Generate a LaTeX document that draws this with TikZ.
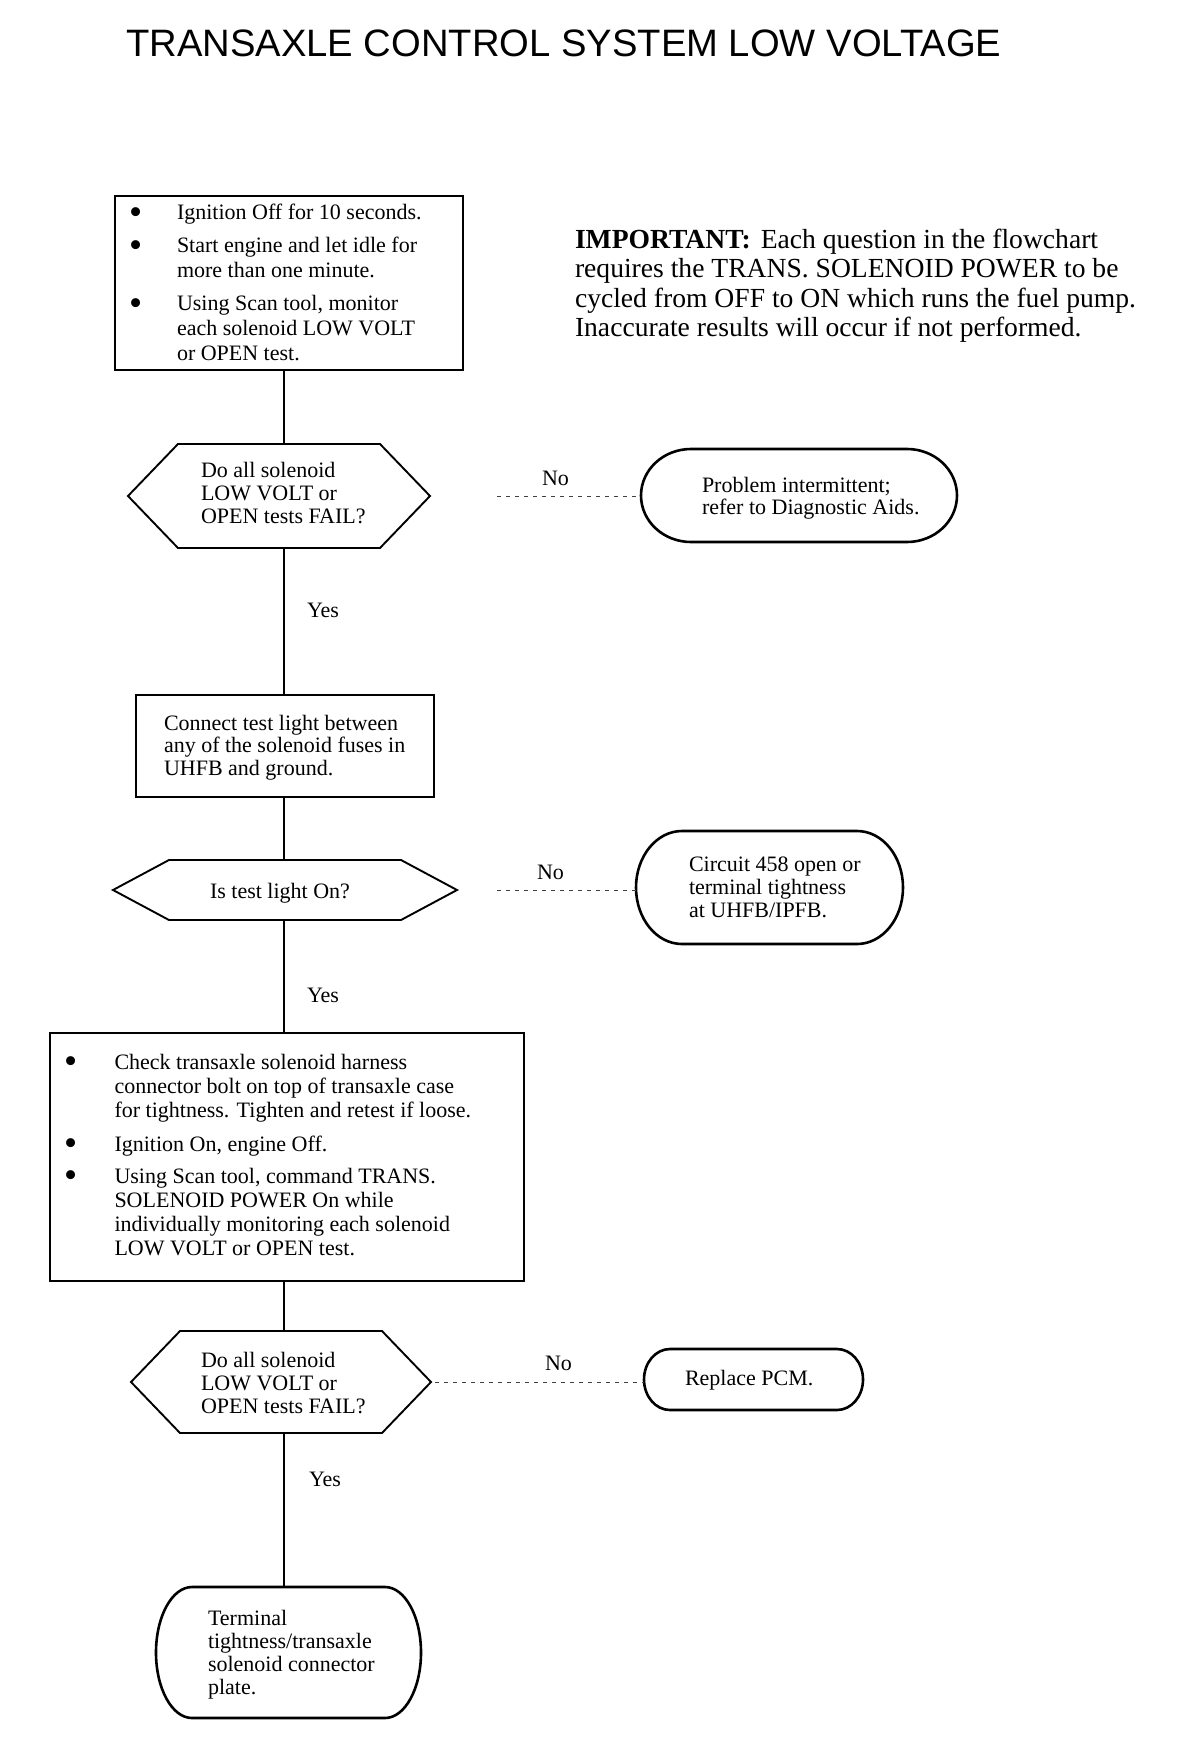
\documentclass[tikz,border=0pt]{standalone}
\usepackage{fontspec}
\setmainfont{Liberation Serif}
\newfontfamily\titlefont{Liberation Sans}
\newcommand{\bigbullet}{\raisebox{-4.5pt}{\scalebox{1.7}{\textbullet}}}
\newcommand{\hexoutline}[2]{%
  \draw[hexline] (#1.west) -- ([xshift=#2]#1.north west) -- ([xshift=-#2]#1.north east) -- (#1.east) -- ([xshift=-#2]#1.south east) -- ([xshift=#2]#1.south west) -- cycle;}
\newcommand{\termoutline}[3]{%
  \draw[termline] ([xshift=#2]#1.north west) -- ([xshift=-#2]#1.north east)
    arc[start angle=90,end angle=0,x radius=#2,y radius=#3]
    -- ([yshift=#3]#1.south east)
    arc[start angle=0,end angle=-90,x radius=#2,y radius=#3]
    -- ([xshift=#2]#1.south west)
    arc[start angle=270,end angle=180,x radius=#2,y radius=#3]
    -- ([yshift=-#3]#1.north west)
    arc[start angle=180,end angle=90,x radius=#2,y radius=#3] -- cycle;}
\begin{document}
\begin{tikzpicture}[x=1pt,y=1pt,
  boxnode/.style={draw, line width=2.2pt, inner sep=0pt, outer sep=0pt},
  shapenode/.style={inner sep=0pt, outer sep=0pt},
  hexline/.style={line width=1.9pt, line join=miter},
  termline/.style={line width=2.6pt},
  flow/.style={line width=1.1pt},
  noflow/.style={line width=0.9pt, dash pattern=on 4pt off 5pt, black!75},
  txt/.style={anchor=base west, inner sep=0pt, outer sep=0pt, font=\fontsize{22}{23}\selectfont},
  lbl/.style={anchor=base west, inner sep=0pt, outer sep=0pt, font=\fontsize{22}{23}\selectfont}
]
\useasboundingbox (0,0) rectangle (1200,-1744);
\fill[white] (0,0) rectangle (1200,-1744);
\coordinate (spine) at (284,0);

% title
\node[anchor=base west, inner sep=0pt, font=\titlefont\fontsize{38.2}{40}\selectfont] (title) at (126,-57) {TRANSAXLE CONTROL SYSTEM LOW VOLTAGE};

% important note
\node[txt, font=\fontsize{27.6}{29.5}\selectfont] (imp) at (575,-248) {\begin{tabular}[t]{@{}l@{}}\textbf{IMPORTANT:}\hspace{10pt}Each question in the flowchart\\ requires the TRANS. SOLENOID POWER to be\\ cycled from OFF to ON which runs the fuel pump.\\ Inaccurate results will occur if not performed.\end{tabular}};

% box 1
\node[boxnode, minimum width=348pt, minimum height=174pt] (b1) at (289,-283) {};
\node[txt, font=\fontsize{22}{24.7}\selectfont] (b1t) at (129,-220) {\begin{tabular}[t]{@{}p{48pt}@{}l@{}}\bigbullet & Ignition Off for 10 seconds.\\[8.3pt] \bigbullet & Start engine and let idle for\\ & more than one minute.\\[8.3pt] \bigbullet & Using Scan tool, monitor\\ & each solenoid LOW VOLT\\ & or OPEN test.\end{tabular}};

% decision 1
\node[shapenode, minimum width=302pt, minimum height=104pt] (d1) at (279,-496) {};
\hexoutline{d1}{50pt}
\node[txt] (d1t) at (201,-477) {\begin{tabular}[t]{@{}l@{}}Do all solenoid\\ LOW VOLT or\\ OPEN tests FAIL?\end{tabular}};

% terminal 1
\node[shapenode, minimum width=316pt, minimum height=93pt] (t1) at (799,-495.5) {};
\termoutline{t1}{50pt}{46.5pt}
\node[txt, font=\fontsize{22}{22}\selectfont] (t1t) at (702,-492) {\begin{tabular}[t]{@{}l@{}}Problem intermittent;\\ refer to Diagnostic Aids.\end{tabular}};

% box 2
\node[boxnode, minimum width=298pt, minimum height=102pt] (b2) at (285,-746) {};
\node[txt, font=\fontsize{22}{22.5}\selectfont] (b2t) at (164,-730) {\begin{tabular}[t]{@{}l@{}}Connect test light between\\ any of the solenoid fuses in\\ UHFB and ground.\end{tabular}};

% decision 2
\node[shapenode, minimum width=344pt, minimum height=60pt] (d2) at (285,-890) {};
\hexoutline{d2}{56pt}
\node[txt] (d2t) at (210,-898) {Is test light On?};

% terminal 2
\node[shapenode, minimum width=267pt, minimum height=113pt] (t2) at (769.5,-887.5) {};
\termoutline{t2}{46pt}{56.5pt}
\node[txt] (t2t) at (689,-871) {\begin{tabular}[t]{@{}l@{}}Circuit 458 open or\\ terminal tightness\\ at UHFB/IPFB.\end{tabular}};

% box 3
\node[boxnode, minimum width=474pt, minimum height=248pt] (b3) at (287,-1157) {};
\node[txt, font=\fontsize{22}{24}\selectfont] (b3t) at (64,-1069) {\begin{tabular}[t]{@{}p{50.5pt}@{}l@{}}\bigbullet & Check transaxle solenoid harness\\ & connector bolt on top of transaxle case\\ & for tightness. Tighten and retest if loose.\\[10pt] \bigbullet & Ignition On, engine Off.\\[8pt] \bigbullet & Using Scan tool, command TRANS.\\ & SOLENOID POWER On while\\ & individually monitoring each solenoid\\ & LOW VOLT or OPEN test.\end{tabular}};

% decision 3
\node[shapenode, minimum width=300pt, minimum height=102pt] (d3) at (281,-1382) {};
\hexoutline{d3}{49pt}
\node[txt] (d3t) at (201,-1367) {\begin{tabular}[t]{@{}l@{}}Do all solenoid\\ LOW VOLT or\\ OPEN tests FAIL?\end{tabular}};

% terminal 3
\node[shapenode, minimum width=219pt, minimum height=61pt] (t3) at (753.5,-1379.5) {};
\termoutline{t3}{26pt}{30.5pt}
\node[txt] (t3t) at (685,-1385) {Replace PCM.};

% terminal 4
\node[shapenode, minimum width=265pt, minimum height=131pt] (t4) at (288.5,-1652.5) {};
\termoutline{t4}{36pt}{65.5pt}
\node[txt] (t4t) at (208,-1625) {\begin{tabular}[t]{@{}l@{}}Terminal\\ tightness/transaxle\\ solenoid connector\\ plate.\end{tabular}};

% connectors
\draw[flow] (b1.south -| spine) -- (d1.north -| spine);
\draw[flow] (d1.south -| spine) -- (b2.north -| spine);
\draw[flow] (b2.south -| spine) -- (d2.north -| spine);
\draw[flow] (d2.south -| spine) -- (b3.north -| spine);
\draw[flow] (b3.south -| spine) -- (d3.north -| spine);
\draw[flow] (d3.south -| spine) -- (t4.north -| spine);
\draw[noflow, shorten <=67pt] (d1.east) -- (d1.east -| t1.west);
\draw[noflow, shorten <=40pt] (d2.east) -- (d2.east -| t2.west);
\draw[noflow, shorten <=4pt] (d3.east) -- (d3.east -| t3.west);

% labels
\node[lbl] (no1) at (542,-485) {No};
\node[lbl] (no2) at (537,-879) {No};
\node[lbl] (no3) at (545,-1370) {No};
\node[lbl] (yes1) at (307,-617) {Yes};
\node[lbl] (yes2) at (307,-1002) {Yes};
\node[lbl] (yes3) at (309,-1486) {Yes};
\end{tikzpicture}
\end{document}
